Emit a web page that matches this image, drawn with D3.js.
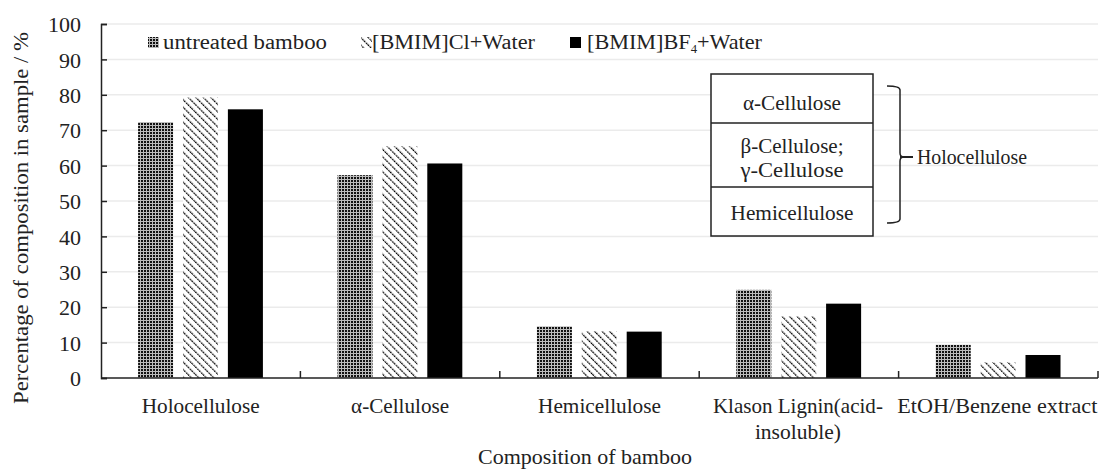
<!DOCTYPE html>
<html><head><meta charset="utf-8">
<script src="https://cdn.jsdelivr.net/npm/d3@7"></script>
<style>body{margin:0;background:#fff}svg{display:block}svg text{font-family:'Liberation Serif','DejaVu Serif',serif;fill:#222}</style>
</head><body><svg id="c" width="1104" height="469"></svg>
<script>
const categories = ["Holocellulose","α-Cellulose","Hemicellulose","Klason Lignin(acid-insoluble)","EtOH/Benzene extract"];
const categoryLines = [["Holocellulose"],["α-Cellulose"],["Hemicellulose"],["Klason Lignin(acid-","insoluble)"],["EtOH/Benzene extract"]];
const seriesNames = ["untreated bamboo","[BMIM]Cl+Water","[BMIM]BF4+Water"];
const untreated = [72.3, 57.3, 14.6, 24.9, 9.4];
const bmimCl    = [79.2, 65.4, 13.2, 17.4, 4.4];
const bmimBF4   = [75.9, 60.6, 13.1, 21.0, 6.5];
const yTicks = [0,10,20,30,40,50,60,70,80,90,100];
const insetRows = ["α-Cellulose","β-Cellulose;","γ-Cellulose","Hemicellulose"];

const FONT = "'Liberation Serif','DejaVu Serif',serif";
const svg = d3.select("#c");
const defs = svg.append("defs");
const p1 = defs.append("pattern").attr("id","pDots").attr("width",3).attr("height",3).attr("patternUnits","userSpaceOnUse");
p1.append("rect").attr("width",3).attr("height",3).attr("fill","#bbb");
p1.append("rect").attr("width",2).attr("height",2).attr("fill","#111");
const p2 = defs.append("pattern").attr("id","pHatch").attr("width",5.3).attr("height",5.3).attr("patternUnits","userSpaceOnUse").attr("patternTransform","rotate(-45)");
p2.append("rect").attr("width",5.3).attr("height",5.3).attr("fill","#fff");
p2.append("line").attr("x1",0).attr("y1",0).attr("x2",0).attr("y2",5.3).attr("stroke","#000").attr("stroke-width",2.4).attr("stroke-dasharray","2,0.8");
const fills = ["url(#pDots)","url(#pHatch)","#000"];

function txt(sel, x, yy, s, opts={}) {
  const t = sel.append("text").attr("x",x).attr("y",yy).attr("font-size",opts.size||20)
    .style("font-family",FONT).attr("fill","#222").text(s);
  if (opts.anchor) t.attr("text-anchor",opts.anchor);
  if (opts.len) t.attr("textLength",opts.len).attr("lengthAdjust","spacingAndGlyphs");
  return t;
}

const mLeft = 101, mRight = 1098, mTop = 24, mBottom = 378;
const x0 = d3.scaleBand().domain(categories).range([mLeft,mRight]).padding(0);
const bw = x0.bandwidth();
const x1 = d3.scaleBand().domain(seriesNames).range([bw*0.186, bw*0.812]).paddingInner(0.22).paddingOuter(0);
const y = d3.scaleLinear().domain([0,100]).range([mBottom, mTop]);

svg.append("g").selectAll("line").data(yTicks.filter(d=>d>0)).join("line")
  .attr("x1",mLeft).attr("x2",mRight).attr("y1",d=>y(d)).attr("y2",d=>y(d))
  .attr("stroke","#ebebeb").attr("stroke-width",1.5);

const ix0 = 711, ix1 = 873;
const rowsB = [74,123,187,236];
const ig = svg.append("g");
ig.append("rect").attr("x",ix0).attr("y",rowsB[0]).attr("width",ix1-ix0).attr("height",rowsB[3]-rowsB[0]).attr("fill","#fff").attr("stroke","#222").attr("stroke-width",1.5);
[1,2].forEach(i=>ig.append("line").attr("x1",ix0).attr("x2",ix1).attr("y1",rowsB[i]).attr("y2",rowsB[i]).attr("stroke","#222").attr("stroke-width",1.5));
const insetY = [110,153,177,220], insetLen = [98,103,103,123];
insetRows.forEach((t,i)=> txt(ig,(ix0+ix1)/2, insetY[i], t, {anchor:"middle", len:insetLen[i], size:21}));
ig.append("path").attr("d","M887,86 Q900,86 900,90 L900,153 Q900,157 904,157 Q900,157 900,161 L900,219 Q900,223 887,223")
  .attr("fill","none").attr("stroke","#222").attr("stroke-width",1.5);
ig.append("line").attr("x1",900).attr("x2",913).attr("y1",157).attr("y2",157).attr("stroke","#222").attr("stroke-width",2);
txt(ig, 917, 164, "Holocellulose", {len:110, size:21});

const series = [untreated, bmimCl, bmimBF4];
series.forEach((vals,si)=>{
  svg.append("g").selectAll("rect").data(vals).join("rect")
    .attr("x",(d,i)=>x0(categories[i])+x1(seriesNames[si]))
    .attr("y",d=>y(d)).attr("width",x1.bandwidth()).attr("height",d=>y(0)-y(d))
    .attr("fill",fills[si]);
});

const ya = svg.append("g").attr("transform",`translate(${mLeft},0)`)
  .call(d3.axisLeft(y).tickValues(yTicks).tickSize(-6).tickPadding(20));
ya.attr("font-family",null).attr("font-size",null);
ya.select(".domain").attr("stroke","#222").attr("stroke-width",1.5);
ya.selectAll(".tick line").attr("stroke","#222").attr("stroke-width",1.5);
ya.selectAll(".tick text").attr("font-size",22).style("font-family",FONT).attr("fill","#222").attr("dy","0.35em");

svg.append("line").attr("x1",mLeft).attr("x2",mRight).attr("y1",mBottom).attr("y2",mBottom).attr("stroke","#222").attr("stroke-width",1.5);
svg.append("g").selectAll("line").data(categories).join("line")
  .attr("x1",d=>x0(d)+bw).attr("x2",d=>x0(d)+bw).attr("y1",mBottom).attr("y2",mBottom-7)
  .attr("stroke","#222").attr("stroke-width",1.5);

const catLen = [[118],[98],[123],[170,86],[200]];
categoryLines.forEach((lines,i)=>{
  lines.forEach((t,j)=>{
    txt(svg, x0(categories[i])+bw/2 + (i>=3?-1:0), 413+j*26, t, {anchor:"middle", len:catLen[i][j], size:21});
  });
});

txt(svg, 585, 464, "Composition of bamboo", {anchor:"middle", len:214, size:21});
txt(svg, 0, 0, "Percentage of composition in sample / %", {anchor:"middle", len:372, size:21})
  .attr("transform","translate(28,218) rotate(-90)");

const legX = [148, 361, 570];
const legLen = [164, 163, 175];
const lg = svg.append("g");
seriesNames.forEach((n,i)=>{
  lg.append("rect").attr("x",legX[i]).attr("y",37).attr("width",11).attr("height",11).attr("fill",fills[i]);
  if(i===2){
    const t = lg.append("text").attr("x",legX[i]+17).attr("y",49).attr("font-size",21).style("font-family",FONT).attr("fill","#222")
      .attr("textLength",legLen[i]).attr("lengthAdjust","spacingAndGlyphs");
    t.append("tspan").text("[BMIM]BF");
    t.append("tspan").attr("font-size",12).attr("dy",4).text("4");
    t.append("tspan").attr("dy",-4).text("+Water");
  } else txt(lg, legX[i]+(i===0?15:11), 49, n, {len:legLen[i]});
});
</script></body></html>
